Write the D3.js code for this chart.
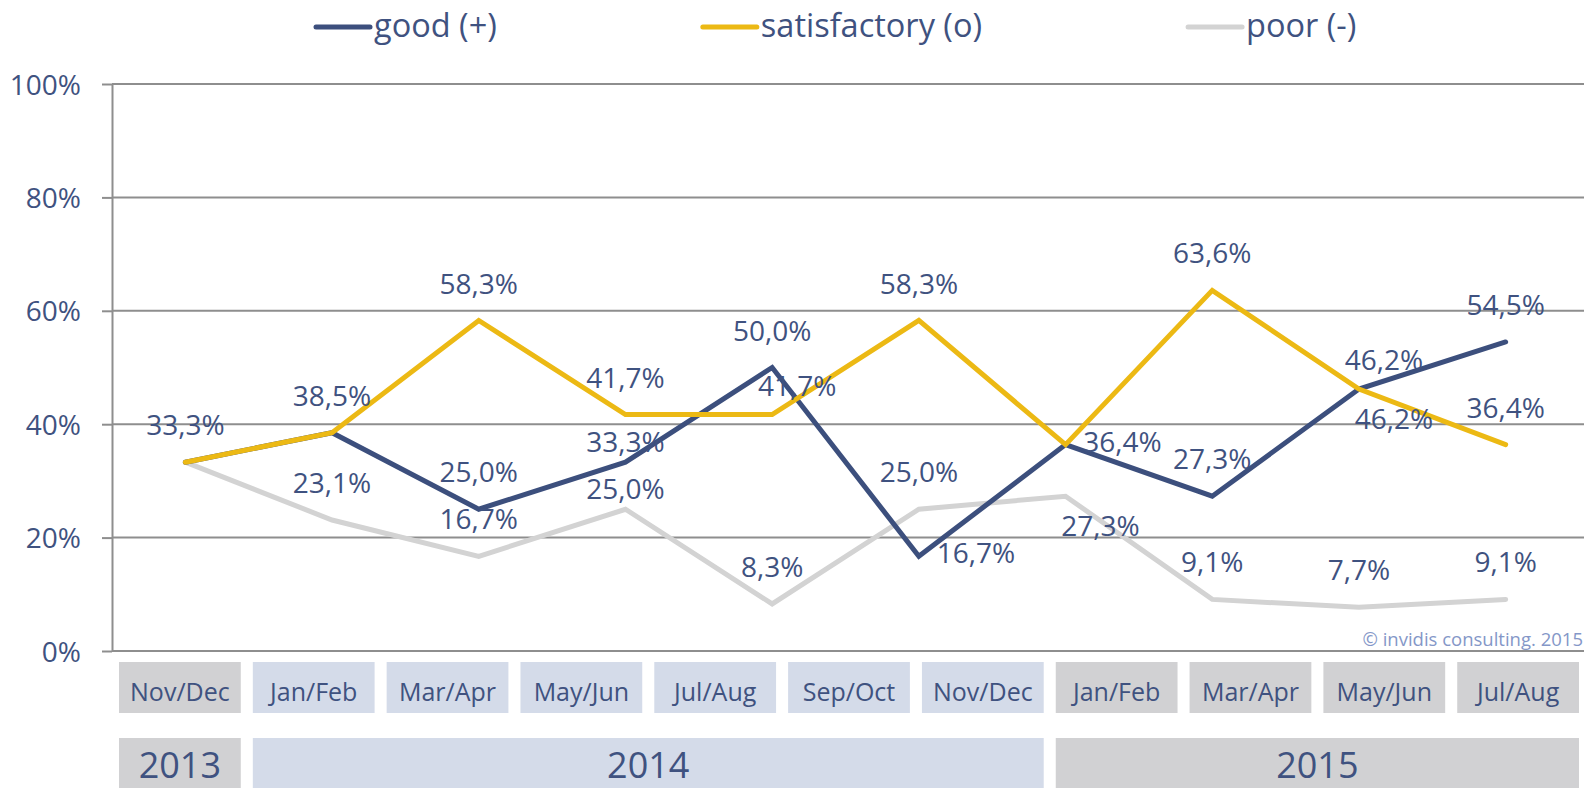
<!DOCTYPE html>
<html><head><meta charset="utf-8">
<script src="https://cdn.jsdelivr.net/npm/d3@7"></script>
<style>html,body{margin:0;padding:0;background:#fff;} svg{display:block;font-family:"Open Sans",sans-serif;}</style>
</head><body>
<svg id="c" width="1584" height="788"></svg>
<script>
// ---------- data ----------
const waves = ["Nov/Dec 2013","Jan/Feb 2014","Mar/Apr 2014","May/Jun 2014","Jul/Aug 2014",
               "Sep/Oct 2014","Nov/Dec 2014","Jan/Feb 2015","Mar/Apr 2015","Jul/Aug 2015"];
const seriesNames = ["good (+)","satisfactory (o)","poor (-)"];
const goodValues         = [33.3, 38.5, 25.0, 33.3, 50.0, 16.7, 36.4, 27.3, 46.2, 54.5];
const satisfactoryValues = [33.3, 38.5, 58.3, 41.7, 41.7, 58.3, 36.4, 63.6, 46.2, 36.4];
const poorValues         = [33.3, 23.1, 16.7, 25.0,  8.3, 25.0, 27.3,  9.1,  7.7,  9.1];
// label placement codes (null = label shared with another series)
const goodLabelPos         = ["t","t","t","t2","t","r","r","t","tr","t"];
const satisfactoryLabelPos = [null,null,"t","t","tr","t",null,"t","br","t"];
const poorLabelPos         = [null,"t","t","t2","t","t","br","t","t","t"];
const yTicks = [0, 20, 40, 60, 80, 100];
const boxPeriods = ["Nov/Dec","Jan/Feb","Mar/Apr","May/Jun","Jul/Aug","Sep/Oct","Nov/Dec",
                    "Jan/Feb","Mar/Apr","May/Jun","Jul/Aug"];
const boxYears = ["2013","2014","2014","2014","2014","2014","2014","2015","2015","2015","2015"];
const years = ["2013","2014","2015"];
const copyright = "© invidis consulting. 2015";

// ---------- styles ----------
const textColor = "#3f5280";
const gridColor = "#8e8e8e";
const seriesColors = ["#3c4f7d", "#ecb914", "#d3d3d3"];
const yearFill = {"2013":"#d1d1d3","2014":"#d4dbe9","2015":"#d1d1d3"};

const svg = d3.select("#c");
const plotL = 112, plotR = 1579, plotT = 84, plotB = 651, gridR = 1584;

const x = d3.scaleBand().domain(waves).range([plotL, plotR]);
const y = d3.scaleLinear().domain([0, 100]).range([plotB, plotT]);
const cx = w => x(w) + x.bandwidth() / 2;

// gridlines
svg.append("g").selectAll("line").data(yTicks).join("line")
  .attr("x1", plotL).attr("x2", gridR)
  .attr("y1", d => y(d)).attr("y2", d => y(d))
  .attr("stroke", gridColor).attr("stroke-width", 2);

// y axis
const yAxis = d3.axisLeft(y).tickValues(yTicks).tickSize(10).tickSizeOuter(0)
  .tickPadding(21).tickFormat(d => d + "%");
const ga = svg.append("g").attr("transform", `translate(${plotL},0)`).call(yAxis);
ga.select(".domain").attr("stroke", gridColor).attr("stroke-width", 2);
ga.selectAll(".tick line").attr("stroke", gridColor).attr("stroke-width", 2);
ga.selectAll(".tick text").attr("fill", textColor).attr("font-size", 28)
  .attr("font-family", '"Open Sans",sans-serif').attr("dy", "0.36em");

// copyright
svg.append("text").attr("x", 1583).attr("y", 646).attr("text-anchor", "end")
  .attr("font-size", 18.5).attr("fill", "#8497c8").text(copyright);

// lines (poor first, then good, then satisfactory on top)
const series = [
  {name: seriesNames[0], values: goodValues, pos: goodLabelPos, color: seriesColors[0]},
  {name: seriesNames[1], values: satisfactoryValues, pos: satisfactoryLabelPos, color: seriesColors[1]},
  {name: seriesNames[2], values: poorValues, pos: poorLabelPos, color: seriesColors[2]}
];
const line = d3.line().x((v, i) => cx(waves[i])).y(v => y(v));
[series[2], series[0], series[1]].forEach(s => {
  svg.append("path").attr("d", line(s.values)).attr("fill", "none")
    .attr("stroke", s.color).attr("stroke-width", 5)
    .attr("stroke-linecap", "round").attr("stroke-linejoin", "miter");
});

// data labels
const fmt = d3.formatLocale({decimal: ",", thousands: ".", grouping: [3], currency: ["", "€"]}).format(".1f");
const offsets = {t: [0, -37], t2: [0, -20], r: [57, -3], tr: [25, -29], br: [35, 30]};
series.forEach(s => {
  svg.append("g").selectAll("text")
    .data(s.values.map((v, i) => ({v, i, p: s.pos[i]})).filter(d => d.p))
    .join("text")
    .attr("x", d => cx(waves[d.i]) + offsets[d.p][0])
    .attr("y", d => y(d.v) + offsets[d.p][1])
    .attr("dy", "0.36em").attr("text-anchor", "middle")
    .attr("font-size", 28).attr("fill", textColor)
    .text(d => fmt(d.v) + "%");
});

// legend
const lg = svg.append("g");
const legendItems = series.map(s => {
  const g = lg.append("g");
  g.append("line").attr("x1", 0).attr("x2", 54).attr("y1", 27).attr("y2", 27)
    .attr("stroke", s.color).attr("stroke-width", 5).attr("stroke-linecap", "round");
  const t = g.append("text").attr("x", 58).attr("y", 37).attr("font-size", 32.5)
    .attr("fill", textColor).text(s.name);
  return {g, w: 58 + t.node().getComputedTextLength()};
});
const gap = 206;
let lx = 316;
legendItems.forEach(it => { it.g.attr("transform", `translate(${lx},0)`); lx += it.w + gap; });

// period boxes
const bx = d3.scaleBand().domain(d3.range(boxPeriods.length)).range([119, plotR]).paddingInner(0.09);
const row1 = svg.append("g");
row1.selectAll("rect").data(boxPeriods).join("rect")
  .attr("x", (d, i) => bx(i)).attr("y", 662).attr("width", bx.bandwidth()).attr("height", 51)
  .attr("fill", (d, i) => yearFill[boxYears[i]]);
row1.selectAll("text").data(boxPeriods).join("text")
  .attr("x", (d, i) => bx(i) + bx.bandwidth() / 2).attr("y", 701)
  .attr("text-anchor", "middle").attr("font-size", 25).attr("fill", textColor).text(d => d);

// year boxes
const yearSpans = years.map(yr => {
  const idx = boxYears.map((v, i) => v === yr ? i : -1).filter(i => i >= 0);
  const x0 = bx(d3.min(idx)), x1 = bx(d3.max(idx)) + bx.bandwidth();
  return {yr, x0, x1};
});
const row2 = svg.append("g");
row2.selectAll("rect").data(yearSpans).join("rect")
  .attr("x", d => d.x0).attr("y", 738).attr("width", d => d.x1 - d.x0).attr("height", 50)
  .attr("fill", d => yearFill[d.yr]);
row2.selectAll("text").data(yearSpans).join("text")
  .attr("x", d => (d.x0 + d.x1) / 2).attr("y", 778)
  .attr("text-anchor", "middle").attr("font-size", 36).attr("fill", textColor).text(d => d.yr);
</script>
</body></html>
